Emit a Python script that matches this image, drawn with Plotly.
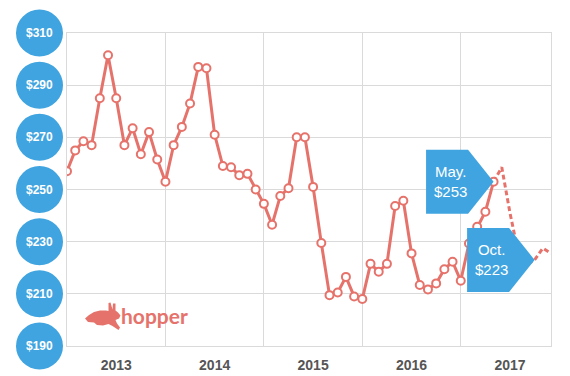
import plotly.graph_objects as go

# ---- data ----
months = list(range(0, 53))  # Jan 2013 = 0
prices = [257, 265, 268.5, 267, 285, 301.5, 285, 267, 273.5, 263.5, 272, 261.5,
          253, 267, 274, 283, 297, 296.5, 271, 259, 258.5, 255.5, 256, 250,
          244.5, 236.5, 247.5, 250.5, 270, 270, 251, 229.5, 209.5, 210.5, 216.5, 209,
          208, 221.5, 218.5, 221.5, 243.7, 245.7, 225.5, 213.4, 211.7, 214, 219.4, 222.3,
          215, 229.3, 235.7, 241.5, 253]
fc_months = list(range(52, 60))
fc_prices = [253, 258.5, 241, 226, 221, 223, 227.5, 225.5]

year_labels = ["2013", "2014", "2015", "2016", "2017"]
year_label_pos = [6, 18, 30, 42, 54]
year_bounds = [12, 24, 36, 48]
y_ticks = [190, 210, 230, 250, 270, 290, 310]
Y_MIN, Y_MAX = 190, 310

callouts = [("May.", 52, 253), ("Oct.", 57, 223)]

LINE = "#E6736B"
BLUE = "#3FA4DF"
GRID = "#DADADA"

W, H = 570, 376
L, R, T, B = 67, 19, 33, 30
PW = W - L - R
PH = H - T - B

fig = go.Figure()

fig.add_trace(go.Scatter(
    x=fc_months, y=fc_prices, mode="lines",
    line=dict(color=LINE, width=3, dash="5px,3px"),
    hoverinfo="skip", showlegend=False))

fig.add_trace(go.Scatter(
    x=months, y=prices, mode="lines+markers",
    line=dict(color=LINE, width=3),
    marker=dict(size=8, color="white", line=dict(color=LINE, width=2)),
    showlegend=False))

shapes = []
annotations = []

# y-axis bubble labels
cx_paper = (39.5 - L) / PW
for v in y_ticks:
    yp = (v - Y_MIN) / (Y_MAX - Y_MIN)
    shapes.append(dict(type="circle", xref="paper", yref="paper",
                       xsizemode="pixel", ysizemode="pixel",
                       xanchor=cx_paper, yanchor=yp,
                       x0=-23.5, x1=23.5, y0=-23.5, y1=23.5,
                       fillcolor=BLUE, line=dict(width=0), layer="above"))
    annotations.append(dict(xref="paper", yref="paper", x=cx_paper, y=yp,
                            text="$%d" % v, showarrow=False,
                            font=dict(family="Liberation Sans", size=12, color="white", weight="bold"),
                            xanchor="center", yanchor="middle"))

# callouts (arrow pointing at the data point)
for label, m, v in callouts:
    path = "M -67.5 32 L -25.5 32 L 0 0 L -25.5 -32 L -67.5 -32 Z"
    shapes.append(dict(type="path", xref="x", yref="y",
                       xsizemode="pixel", ysizemode="pixel",
                       xanchor=m, yanchor=v, path=path,
                       fillcolor=BLUE, line=dict(width=0), layer="above"))
    annotations.append(dict(xref="x", yref="y", x=m, y=v, xshift=-43,
                            text="%s<br>$%d" % (label, v), showarrow=False,
                            align="center",
                            font=dict(family="Liberation Sans", size=15, color="white"),
                            xanchor="center", yanchor="middle"))

# hopper logo (leaping rabbit + wordmark)
rabbit = [(85, 318.5), (89, 315), (94, 312), (100, 310.5), (106, 310.5), (108.5, 311),
          (108.5, 303), (110.5, 302.5), (112.5, 309.5), (113, 303.5), (115.5, 303.5), (115.5, 310.5),
          (118, 312.5), (120.5, 315.5), (119, 318.5), (115.5, 320), (117, 323.5),
          (120, 327.5), (118.5, 330), (112.5, 326), (108.5, 324), (103, 325.5),
          (97, 325), (94, 322.5), (88, 322)]
ax, ay = 86, 318
p = "M " + " L ".join("%.1f %.1f" % (x - ax, ay - y) for x, y in rabbit) + " Z"
shapes.append(dict(type="path", xref="paper", yref="paper",
                   xsizemode="pixel", ysizemode="pixel",
                   xanchor=(ax - L) / PW, yanchor=(H - B - ay) / PH,
                   path=p, fillcolor=LINE, line=dict(width=0), layer="above"))
annotations.append(dict(xref="paper", yref="paper",
                        x=(119 - L) / PW, y=(H - B - 315) / PH,
                        text="hopper", showarrow=False, xanchor="left", yanchor="middle",
                        font=dict(family="Lato", size=21, color=LINE, weight="bold")))

fig.update_layout(
    width=W, height=H,
    margin=dict(l=L, r=R, t=T, b=B, autoexpand=False),
    paper_bgcolor="white", plot_bgcolor="white",
    shapes=shapes, annotations=annotations,
    xaxis=dict(range=[0, 59], showgrid=False, zeroline=False, automargin=False,
               showline=True, mirror=True, linecolor=GRID, linewidth=1,
               tickmode="array", tickvals=year_label_pos, ticktext=year_labels,
               ticks="outside", ticklen=6, tickcolor="rgba(0,0,0,0)",
               tickfont=dict(family="Liberation Sans", size=14, color="#555555", weight="bold"),
               minor=dict(tickmode="array", tickvals=year_bounds, showgrid=True,
                          gridcolor=GRID, gridwidth=1, ticks="")),
    yaxis=dict(range=[Y_MIN, Y_MAX], tickvals=y_ticks, showticklabels=False, automargin=False,
               showgrid=True, gridcolor=GRID, gridwidth=1, zeroline=False,
               showline=True, mirror=True, linecolor=GRID, linewidth=1),
)

fig.write_html("out.html", config={"displayModeBar": False},
               post_script="document.body.style.margin='0';document.body.style.padding='0';")
